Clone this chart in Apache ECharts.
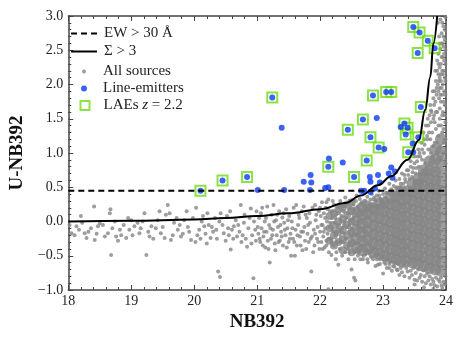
<!DOCTYPE html>
<html>
<head>
<meta charset="utf-8">
<script src="https://cdn.jsdelivr.net/npm/echarts@6/dist/echarts.min.js"></script>
<style>
  html, body { margin: 0; padding: 0; background: #fff; }
  #chart { width: 463px; height: 338px; }
</style>
</head>
<body>
<div id="chart"></div>
<script>
// x = NB392, y = U-NB392
const xTicks = [18, 19, 20, 21, 22, 23, 24];
const yTicks = [-1.0, -0.5, 0.0, 0.5, 1.0, 1.5, 2.0, 2.5, 3.0];

const ewLine = [[18, 0.45], [24, 0.45]];

const sigmaCurve = [
  [18, 0.0], [19, 0.01], [20, 0.03], [20.5, 0.05], [21, 0.08], [21.5, 0.12],
  [22, 0.18], [22.4, 0.27], [22.65, 0.38], [22.92, 0.53], [23.13, 0.66],
  [23.39, 0.9], [23.57, 1.19], [23.67, 1.63], [23.75, 2.11], [23.8, 2.6], [23.86, 3.0]
];

// all sources, single small dots
const allSourcesLoose = [
  [18.02,-0.05],[18.05,-0.17],[18.1,-0.2],[18.13,-0.07],[18.17,-0.12],[18.2,0.08],[18.22,-0.02],
  [18.26,-0.17],[18.29,-0.24],[18.32,-0.15],[18.36,-0.1],[18.41,0.22],[18.42,-0.27],[18.45,-0.18],
  [18.47,-0.07],[18.5,-0.03],[18.55,-0.05],[18.58,-0.22],[18.63,-0.17],[18.66,0.12],[18.67,0.18],
  [18.68,-0.49],[18.7,-0.1],[18.74,0.0],[18.76,-0.22],[18.79,-0.28],[18.82,-0.12],[18.84,-0.2],
  [18.88,-0.05],[18.92,-0.24],[18.95,0.05],[18.97,-0.12],[19.0,0.02],[19.02,-0.2],[19.05,-0.07],
  [19.1,-0.02],[19.13,-0.17],[19.15,-0.1],[19.18,0.0],[19.21,0.12],[19.24,-0.49],[19.27,-0.15],
  [19.29,-0.22],[19.32,-0.07],[19.35,-0.25],[19.39,-0.1],[19.42,0.02],[19.45,0.15],[19.47,-0.17],
  [19.5,-0.08],[19.53,-0.24],[19.55,0.1],[19.58,0.24],[19.61,0.12],[19.63,-0.27],[19.66,-0.2],
  [19.68,-0.02],[19.72,0.05],[19.74,-0.12],[19.77,-0.05],[19.79,-0.22],[19.82,-0.18],[19.84,0.02],
  [19.88,0.15],[19.9,-0.08],[19.92,-0.15],[19.95,-0.27],[19.98,0.05],[20.02,-0.3],[20.03,0.2],
  [20.05,-0.2],[20.08,-0.12],[20.1,-0.25],[20.12,0.0],[20.14,0.08],[20.16,-0.07],[20.18,-0.18],
  [20.2,-0.32],[20.21,0.12],[20.23,-0.05],[20.26,-0.24],[20.28,-0.08],[20.3,-0.15],[20.33,0.05],
  [20.35,-0.12],[20.36,-0.25],[20.38,-0.73],[20.4,0.0],[20.41,-0.81],[20.42,0.12],[20.45,-0.05],
  [20.47,-0.17],[20.5,-0.28],[20.52,0.08],[20.54,-0.1],[20.55,-0.2],[20.57,0.15],[20.58,-0.41],
  [20.6,-0.12],[20.62,-0.25],[20.63,-0.07],[20.66,0.02],[20.68,-0.22],[20.7,-0.05],[20.72,-0.15],
  [20.74,0.24],[20.75,-0.3],[20.77,-0.2],[20.79,-0.02],[20.8,0.1],[20.82,-0.25],[20.84,-0.37],
  [20.86,-0.1],[20.88,0.05],[20.9,0.19],[20.91,-0.32],[20.92,-0.2],[20.94,-0.83],[20.95,0.0],
  [20.97,-0.12],[20.98,-0.28],[20.99,0.15],
  [21.01,-0.08],[21.02,-0.18],[21.03,0.05],[21.04,-0.25],[21.05,-0.3],[21.06,0.12],[21.07,-0.1],
  [21.08,0.2],[21.09,-0.35],[21.1,-0.22],[21.11,-0.15],[21.12,0.0],[21.13,-0.38],[21.14,0.05],
  [21.15,-0.15],[21.16,0.22],[21.17,-0.28],[21.18,-0.4],[21.19,-0.05],[21.2,-0.6],[21.21,-0.1],
  [21.22,-0.25],[21.23,0.1],[21.24,-0.2],[21.25,-0.12],[21.26,0.24],[21.27,0.0],[21.28,-0.32],
  [21.29,-0.42],[21.3,0.02],[21.31,-0.2],[21.32,0.1],[21.33,-0.08],[21.34,-0.3],[21.35,0.15],
  [21.36,-0.28],[21.37,-0.05],[21.38,-0.15],[21.39,-0.22],[21.4,0.06],[21.41,-0.35],[21.42,0.12],
  [21.43,-0.02],[21.44,-0.12],[21.45,-0.2],[21.46,0.18],[21.47,-0.38],[21.48,-0.1],[21.49,0.02],
  [21.5,-0.3],[21.51,0.08],[21.52,-0.25],[21.53,-0.18],[21.54,-0.5],[21.55,0.0],[21.56,-0.1],
  [21.57,-0.25],[21.58,0.2],[21.59,-0.3],[21.6,-0.5],[21.61,-0.12],[21.62,0.24],[21.63,-0.35],
  [21.64,-0.2],[21.65,-0.05],[21.66,0.1],[21.67,0.05],[21.68,-0.22],[21.69,-0.35],[21.7,-0.15],
  [21.71,0.15],[21.72,-0.42],[21.73,-0.15],[21.74,0.22],[21.75,-0.08],[21.76,-0.28],[21.77,0.1],
  [21.78,-0.4],[21.79,0.05],[21.8,-0.18],[21.81,-0.05],[21.82,-0.3],[21.83,0.12],[21.84,-0.02],
  [21.85,-0.25],[21.86,-0.73],[21.87,-0.22],[21.88,0.2],[21.89,-0.45],[21.9,-0.12],[21.91,-0.35],
  [21.92,0.24],[21.92,-0.18],[21.93,0.02],[21.94,0.1],[21.95,-0.25],[21.96,-0.08],[21.97,-0.3],
  [21.98,0.15],[21.99,-0.4],
  [22.0,-0.15],[22.0,0.2],[22.01,0.08],[22.02,-0.3],[22.02,-0.05],[22.03,0.28],[22.04,-0.05],
  [22.04,-0.4],[22.05,-0.22],[22.06,0.12],[22.06,-0.15],[22.07,-0.38],[22.08,-0.1],[22.08,0.05],
  [22.09,0.2],[22.1,-0.28],[22.1,-0.35],[22.1,0.28],[22.11,0.0],[22.12,-0.18],[22.12,0.18],
  [22.13,-0.99],[22.13,0.32],[22.14,-0.45],[22.14,-0.25],[22.15,-0.08],[22.16,0.15],[22.16,-0.02],
  [22.17,-0.25],[22.18,-0.49],[22.18,-0.3],[22.19,0.05],[22.2,-0.12],[22.2,0.15],[22.2,0.3],
  [22.21,-0.35],[22.22,0.25],[22.22,-0.15],[22.23,-0.02],[22.24,-0.2],[22.24,0.05],[22.25,0.1],
  [22.25,-0.55],[22.26,-0.3],[22.26,-0.45],[22.27,-0.15],[22.28,0.2],[22.28,-0.08],[22.29,-0.63],
  [22.3,-0.05],[22.3,0.12],[22.3,0.25],[22.31,-0.4],[22.32,0.3],[22.32,-0.3],[22.33,-0.22],
  [22.34,0.08],[22.34,-0.15],[22.35,-0.1],[22.35,-0.5],[22.36,-0.3],[22.36,0.22],[22.37,0.15],
  [22.38,-0.18],[22.38,-0.05],[22.39,0.0],[22.4,-0.45],[22.4,-0.25],[22.4,0.35],[22.41,0.25],
  [22.42,-0.25],[22.42,0.05],[22.43,-0.08],[22.44,0.12],[22.44,-0.4],[22.45,-0.35],[22.45,-0.55],
  [22.46,-0.15],[22.46,0.18],[22.46,-0.05],[22.47,0.3],[22.47,-0.45],[22.48,0.02],[22.48,-0.3],
  [22.49,-0.22],[22.49,0.2],[22.5,-0.7],[22.5,-0.1],[22.51,-0.35],[22.52,0.3],[22.52,-0.2],
  [22.53,0.05],[22.53,0.25],[22.54,-0.82],[22.55,0.18],[22.55,-0.45],[22.55,-0.55],[22.56,-0.86],
  [22.56,-0.32],[22.57,0.12],[22.57,0.3],[22.58,0.38],[22.58,-0.4],[22.58,-0.2],[22.59,-0.1],
  [22.6,0.22],[22.6,-0.5],[22.6,0.0],[22.61,-0.45],[22.62,0.18],[22.63,0.33],[22.64,-0.42],
  [22.64,-0.55],[22.65,0.25],[22.66,0.28],[22.66,-0.35],[22.67,0.1],[22.68,0.42],[22.68,-0.55],
  [22.69,-0.5],[22.7,0.3],[22.71,-0.15],[22.72,0.3],[22.72,-0.48],[22.73,-0.42],[22.74,0.2],
  [22.75,0.36],[22.75,-0.55],[22.76,-0.6],[22.77,0.05],[22.78,0.25],[22.78,-0.45],[22.8,-0.45],
  [22.8,0.32],[22.81,-0.52],[22.82,0.4],[22.83,0.22],[22.84,-0.55],[22.84,-0.4],[22.85,0.32],
  [22.86,0.35],[22.87,-0.5],[22.88,-0.65],[22.89,0.3],[22.9,0.38],[22.9,-0.55],[22.91,0.18],
  [22.92,-0.63],[22.92,-0.48],[22.93,0.45],[22.94,0.38],[22.95,-0.55],[22.95,-0.62],[22.96,0.33],
  [22.97,0.3],[22.98,-0.52],[23.0,0.4],[23.0,-0.76],[23.0,0.28],[23.01,-0.55],[23.02,-0.6],
  [23.03,0.48],[23.03,0.35],[23.04,-0.62],[23.05,0.42],[23.06,-0.68],[23.07,0.42],[23.07,-0.55],
  [23.08,0.3],[23.1,0.55],[23.1,-0.62],[23.1,-0.68],[23.11,0.4],[23.12,-0.58],[23.13,0.47],
  [23.14,-0.72],[23.14,0.45],[23.16,-0.65],[23.17,0.52],[23.18,-0.66],[23.18,0.4],[23.19,-0.6],
  [23.2,0.6],[23.21,0.48],[23.22,0.5],[23.22,-0.7],[23.23,-0.71],[23.24,0.42],[23.25,-0.62],
  [23.26,0.62],[23.26,-0.78],[23.27,0.5],[23.28,0.55],[23.28,-0.68],[23.29,0.45],[23.3,0.7],
  [23.3,-0.74],[23.32,0.55],[23.32,-0.65],[23.34,-0.8],[23.34,0.68],[23.35,0.62],[23.36,0.58],
  [23.37,-0.68],[23.38,0.75],[23.39,-0.73],[23.4,0.68],[23.4,0.75],[23.42,-0.82],[23.42,0.62],
  [23.44,0.8],[23.44,0.88],[23.44,-0.72],[23.46,-0.78],[23.46,0.65],[23.47,0.72],[23.48,0.78],
  [23.48,-0.68],[23.5,0.85],[23.5,-0.85],[23.5,0.95],[23.5,-0.92],[23.52,0.7],[23.52,-0.75],
  [23.53,0.78],[23.54,-0.86],[23.54,0.88],[23.55,0.95],[23.56,1.05],[23.56,-0.7],[23.57,0.8],
  [23.58,1.0],[23.58,-0.82],[23.58,0.7],[23.59,0.95],[23.6,-0.78],[23.61,1.15],[23.62,1.05],
  [23.62,-0.88],[23.62,0.9],[23.63,0.75],[23.64,-0.71],[23.64,1.3],[23.65,1.2],[23.65,1.0],
  [23.65,-0.96],[23.66,1.12],[23.66,-0.8],[23.67,0.85],[23.68,-0.9],[23.68,1.4],[23.7,1.25],
  [23.7,1.2],[23.7,-0.76],[23.71,1.5],[23.72,1.4],[23.72,-0.86],[23.72,1.05],[23.73,1.3],
  [23.74,1.55],[23.74,0.85],[23.74,-0.8],[23.75,1.7],[23.75,1.2],[23.76,1.62],[23.76,-0.92],
  [23.76,1.45],[23.76,1.0],[23.77,1.6],[23.78,-0.84],[23.78,1.3],[23.79,1.9],[23.79,0.95],
  [23.8,1.8],[23.8,-0.88],[23.8,1.5],[23.8,-0.98],[23.8,1.1],[23.81,1.55],[23.81,1.7],
  [23.82,1.9],[23.82,-0.93],[23.82,1.15],[23.82,1.45],[23.83,1.75],[23.83,2.2],[23.84,2.05],
  [23.84,1.6],[23.84,1.35],[23.84,-0.82],[23.85,1.95],[23.85,1.85],[23.85,0.8],[23.86,2.2],
  [23.86,-0.95],[23.86,2.35],[23.86,1.0],[23.86,1.15],[23.86,1.6],[23.87,2.9],[23.87,2.0],
  [23.88,2.45],[23.88,1.9],[23.88,1.25],[23.88,-0.85],[23.88,1.4],[23.88,2.3],[23.88,2.15],
  [23.89,1.8],[23.89,2.05],[23.89,2.7],[23.9,2.1],[23.9,2.6],[23.9,-0.88],[23.9,2.25],
  [23.9,1.5],[23.9,1.65],[23.9,1.95],[23.91,2.52],[23.91,1.85],[23.91,1.1],[23.91,2.95],
  [23.92,2.3],[23.92,2.15],[23.92,1.75],[23.92,0.9],[23.92,-0.82],[23.92,1.4],[23.92,2.05],
  [23.93,2.75],[23.93,1.95],[23.93,2.6],[23.93,-0.93],[23.93,2.4],[23.94,-0.97],[23.94,2.2],
  [23.94,1.3],[23.94,1.85],[23.94,2.9],[23.94,1.55],[23.95,2.4],[23.95,2.0],[23.95,1.6],
  [23.95,2.15],[23.95,2.6],[23.96,2.85],[23.96,2.55],[23.96,1.0],[23.96,-0.88],[23.96,2.7],
  [23.96,1.35],[23.96,1.75],[23.97,2.2],[23.97,1.9],[23.97,2.35],[23.97,1.15],[23.97,2.45],
  [23.98,2.65],[23.98,-0.92],[23.98,2.8],[23.98,1.7],[23.98,2.1],[23.98,1.55],[23.99,2.98],
  [23.99,2.05],[23.99,2.5],[23.99,1.45],[23.99,0.85],[23.99,-0.8],[23.99,2.3],[23.99,1.2],
  [23.99,1.85]
];

// all sources, thickening band (medium dots): columns of NB392 with their U-NB392 values
const allSourcesBand = [
  [22.15, [-0.28, -0.1, 0.08]],
  [22.22, [-0.35, -0.2, -0.05, 0.12]],
  [22.29, [-0.3, -0.15, 0.0, 0.18]],
  [22.36, [-0.42, -0.27, -0.12, 0.03, 0.2]],
  [22.43, [-0.35, -0.2, -0.05, 0.1, 0.25]],
  [22.50, [-0.45, -0.3, -0.15, 0.0, 0.15, 0.28]]
];

// all sources, crowded core (large dots): columns of NB392 with their U-NB392 values
const allSourcesCrowded = [
  [22.58, [-0.38, -0.25, -0.12, 0.01, 0.14]],
  [22.67, [-0.42, -0.29, -0.16, -0.03, 0.1, 0.2]],
  [22.76, [-0.4, -0.27, -0.14, -0.01, 0.12, 0.22]],
  [22.85, [-0.45, -0.32, -0.19, -0.06, 0.07, 0.19]],
  [22.94, [-0.47, -0.34, -0.21, -0.08, 0.05, 0.17, 0.27]],
  [23.03, [-0.5, -0.37, -0.24, -0.11, 0.02, 0.15, 0.27]],
  [23.12, [-0.53, -0.4, -0.27, -0.14, -0.01, 0.12, 0.25, 0.35]],
  [23.21, [-0.55, -0.42, -0.29, -0.16, -0.03, 0.1, 0.23, 0.36]],
  [23.29, [-0.58, -0.45, -0.32, -0.19, -0.06, 0.07, 0.2, 0.33, 0.44]],
  [23.38, [-0.58, -0.45, -0.32, -0.19, -0.06, 0.07, 0.2, 0.33, 0.44]],
  [23.47, [-0.6, -0.48, -0.35, -0.22, -0.09, 0.04, 0.17, 0.3, 0.43, 0.55]],
  [23.56, [-0.62, -0.5, -0.37, -0.24, -0.11, 0.02, 0.15, 0.28, 0.41, 0.54, 0.62]],
  [23.65, [-0.65, -0.52, -0.39, -0.26, -0.13, 0.0, 0.13, 0.26, 0.39, 0.52, 0.65, 0.75]],
  [23.74, [-0.68, -0.55, -0.42, -0.29, -0.16, -0.03, 0.1, 0.23, 0.36, 0.49, 0.62, 0.75, 0.88]],
  [23.83, [-0.7, -0.57, -0.44, -0.31, -0.18, -0.05, 0.08, 0.21, 0.34, 0.47, 0.6, 0.73, 0.9, 1.05]],
  [23.92, [-0.72, -0.59, -0.46, -0.33, -0.2, -0.07, 0.06, 0.19, 0.32, 0.45, 0.58, 0.72, 0.88, 1.02, 1.2]]
];

// line emitters that are not flagged as LAEs
const lineEmitters = [
  [21.01,0.46],[21.39,1.37],[21.43,0.46],[21.74,0.58],[21.85,0.68],[21.86,0.57],[21.84,0.46],
  [22.08,0.49],[22.13,0.5],[22.14,0.92],[22.36,0.86],[22.65,0.45],[22.70,0.45],[22.79,0.65],
  [22.80,0.58],[22.80,0.43],[22.87,0.48],[22.90,1.51],[22.92,0.68],[22.95,0.57],[23.02,1.06],
  [23.09,0.70],[23.13,0.79],[23.15,0.64],[23.19,0.73],[23.28,1.38],[23.47,1.14],[23.48,1.01]
];

// LAEs at z = 2.2 (also line emitters)
const laes = [
  [20.10,0.45],[20.45,0.60],[20.84,0.65],[21.24,1.81],[22.13,0.80],[22.44,1.34],[22.54,0.65],
  [22.68,1.49],[22.74,0.89],[22.80,1.23],[22.84,1.84],[22.93,1.08],[23.05,1.89],[23.13,1.89],
  [23.34,1.43],[23.39,1.37],[23.36,1.27],[23.40,1.01],[23.48,2.84],[23.55,2.46],[23.56,1.23],
  [23.58,2.76],[23.60,1.67],[23.71,2.64],[23.82,2.53]
];

function flattenColumns(cols) {
  const out = [];
  cols.forEach(([x, ys]) => ys.forEach(y => out.push([x, y])));
  return out;
}

const FONT = '"Liberation Serif", "DejaVu Serif", serif';
const GRAY = '#858585';
const BLUE = '#0a3cf0';
const GREEN = '#6edc14';
const AXIS = '#444';

const baseAxis = {
  type: 'value',
  splitLine: { show: false },
  axisLine: { show: true, onZero: false, lineStyle: { color: AXIS, width: 1.5 } },
  axisTick: { show: true, inside: true, length: 5, lineStyle: { color: AXIS, width: 1 } },
  minorTick: { show: true, splitNumber: 5, length: 3, lineStyle: { color: AXIS, width: 1 } }
};

const chart = echarts.init(document.getElementById('chart'), null, { renderer: 'canvas' });

const legendText = { fontFamily: FONT, fontSize: 15, color: '#222' };
function legendRow(top, left, w, h, padLeft, item, extra) {
  return Object.assign({
    orient: 'vertical', left: left, top: top, padding: 0, itemWidth: w, itemHeight: h,
    selectedMode: false, data: [item],
    textStyle: Object.assign({}, legendText, { padding: [0, 0, 0, padLeft],
      rich: { i: Object.assign({}, legendText, { fontStyle: 'italic' }) } })
  }, extra || {});
}

function graySeries(data, size) {
  return {
    name: 'All sources', type: 'scatter', data: data,
    symbol: 'circle', symbolSize: size, itemStyle: { color: GRAY }, silent: true
  };
}

chart.setOption({
  animation: false,
  backgroundColor: '#fff',
  grid: { left: 63, right: 17, top: 16, bottom: 48 },
  legend: [
    legendRow(26, 70, 26, 12, 2, { name: 'EW > 30 Å', itemStyle: { opacity: 0 } }),
    legendRow(44, 70, 26, 12, 2, { name: 'Σ > 3', itemStyle: { opacity: 0 } }),
    legendRow(64, 82, 4, 4, 12, { name: 'All sources', itemStyle: { color: GRAY } }),
    legendRow(81, 81, 6, 6, 11, { name: 'Line-emitters', itemStyle: { color: BLUE } }),
    legendRow(98, 79.5, 9, 9, 9,
      { name: 'LAEs z = 2.2', itemStyle: { color: 'rgba(0,0,0,0)', borderColor: GREEN, borderWidth: 2 } },
      { formatter: () => 'LAEs {i|z} = 2.2' })
  ],
  xAxis: [
    Object.assign({}, baseAxis, {
      min: xTicks[0], max: xTicks[xTicks.length - 1], interval: 1, position: 'bottom',
      name: 'NB392', nameLocation: 'middle', nameGap: 21,
      nameTextStyle: { fontFamily: FONT, fontSize: 19, fontWeight: 'bold', color: '#111' },
      axisLabel: { fontFamily: FONT, fontSize: 14, color: '#222', margin: 4 }
    }),
    Object.assign({}, baseAxis, {
      min: xTicks[0], max: xTicks[xTicks.length - 1], interval: 1, position: 'top',
      axisLabel: { show: false }
    })
  ],
  yAxis: [
    Object.assign({}, baseAxis, {
      min: yTicks[0], max: yTicks[yTicks.length - 1], interval: 0.5, position: 'left',
      name: 'U-NB392', nameLocation: 'middle', nameGap: 40, nameRotate: 90,
      nameTextStyle: { fontFamily: FONT, fontSize: 19, fontWeight: 'bold', color: '#111' },
      axisLabel: { fontFamily: FONT, fontSize: 14, color: '#222', margin: 5,
        formatter: v => v.toFixed(1).replace('-', '\u2212') }
    }),
    Object.assign({}, baseAxis, {
      min: yTicks[0], max: yTicks[yTicks.length - 1], interval: 0.5, position: 'right',
      axisLabel: { show: false }
    })
  ],
  series: [
    graySeries(allSourcesLoose, 4),
    graySeries(flattenColumns(allSourcesBand), 8),
    graySeries(flattenColumns(allSourcesCrowded), 12),
    {
      name: 'EW > 30 Å', type: 'line', data: ewLine, symbol: 'none', showSymbol: false,
      itemStyle: { color: '#000' },
      lineStyle: { color: '#000', width: 2, type: [6, 4] }, silent: true
    },
    {
      name: 'Σ > 3', type: 'line', data: sigmaCurve, symbol: 'none', showSymbol: false,
      itemStyle: { color: '#000' },
      smooth: 0.4, smoothMonotone: 'x', lineStyle: { color: '#000', width: 2 }, silent: true
    },
    {
      name: 'LAEs z = 2.2', type: 'scatter', data: laes, symbol: 'rect', symbolSize: 10,
      itemStyle: { color: 'rgba(0,0,0,0)', borderColor: GREEN, borderWidth: 2 }, silent: true
    },
    {
      name: 'Line-emitters', type: 'scatter', data: lineEmitters.concat(laes),
      symbol: 'circle', symbolSize: 6, itemStyle: { color: BLUE }, silent: true
    }
  ]
});
</script>
</body>
</html>
